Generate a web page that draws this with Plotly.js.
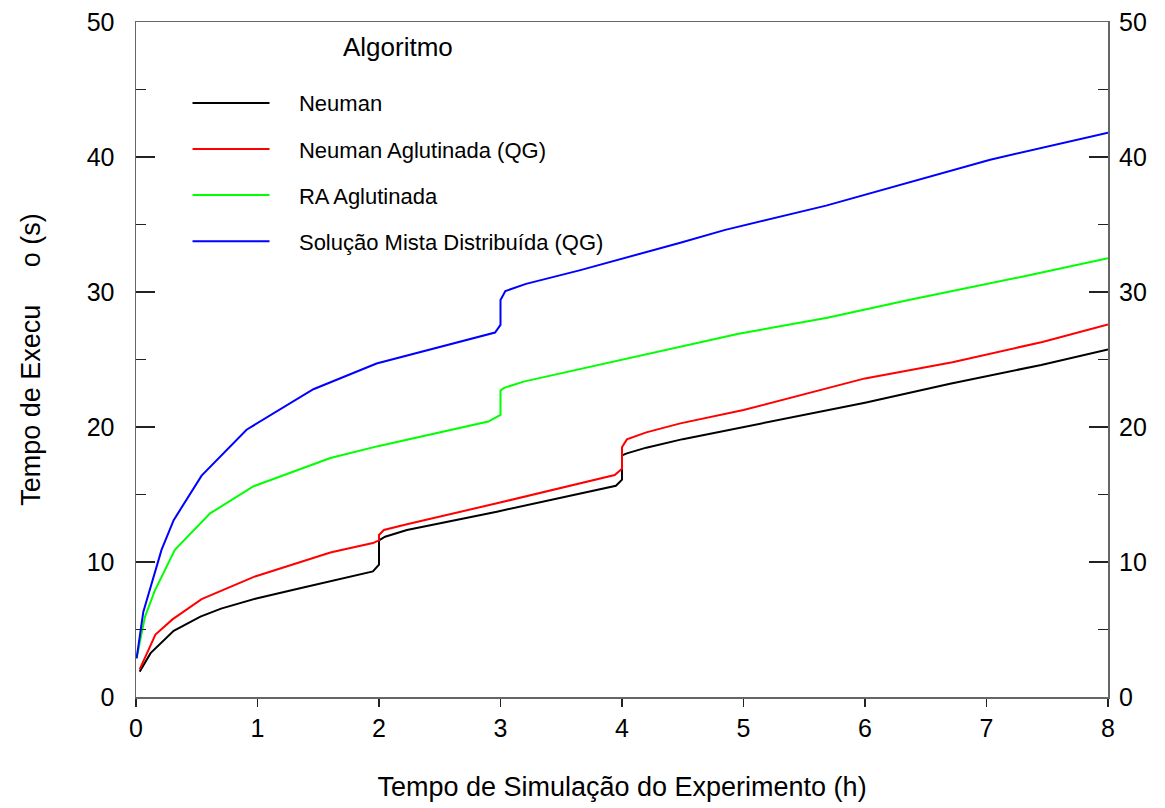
<!DOCTYPE html>
<html>
<head>
<meta charset="utf-8">
<script src="https://cdn.plot.ly/plotly-3.0.1.min.js"></script>
<style>html,body{margin:0;padding:0;background:#fff;}#chart{width:1165px;height:808px;}</style>
</head>
<body>
<div id="chart"></div>
<script>
// Series names
const seriesNames = ["Neuman", "Neuman Aglutinada (QG)", "RA Aglutinada", "Solução Mista Distribuída (QG)"];
const seriesColors = ["#000000", "#ff0000", "#00ff00", "#0000ff"];
const legendTitle = "Algoritmo";

// Neuman
const neumanX = [0.03,0.12,0.31,0.53,0.70,0.99,1.35,1.95,2.0,2.0,2.05,2.23,2.97,3.5,3.95,4.0,4.0,4.04,4.2,4.5,5.0,6.0,6.7,7.45,8.0];
const neumanY = [1.88,3.25,4.9,5.95,6.55,7.3,8.05,9.3,9.8,11.6,11.87,12.37,13.73,14.75,15.65,16.1,17.9,18.05,18.47,19.1,20.0,21.8,23.2,24.6,25.75];

// Neuman Aglutinada (QG)
const neumanAglX = [0.03,0.16,0.30,0.54,0.98,1.6,1.7,1.95,2.0,2.0,2.04,2.23,2.97,3.94,4.0,4.0,4.04,4.2,4.48,5.0,6.0,6.72,7.46,8.0];
const neumanAglY = [2.05,4.63,5.75,7.25,8.93,10.7,10.9,11.4,11.6,12.0,12.37,12.8,14.35,16.44,16.9,18.5,19.08,19.6,20.27,21.26,23.6,24.8,26.3,27.6];

// RA Aglutinada
const raAglX = [0.005,0.074,0.156,0.21,0.32,0.61,0.965,1.6,2.0,2.9,3.0,3.0,3.03,3.19,3.93,4.48,4.96,5.69,6.36,7.36,8.0];
const raAglY = [2.86,5.95,7.9,8.9,10.9,13.6,15.6,17.7,18.6,20.4,20.9,22.7,22.9,23.36,24.84,25.9,26.9,28.1,29.4,31.26,32.5];

// Solução Mista Distribuída (QG)
const smdX = [0.005,0.06,0.21,0.31,0.54,0.91,1.46,1.98,2.955,3.0,3.0,3.04,3.21,3.65,4.48,4.85,5.68,6.19,7.03,8.0];
const smdY = [2.86,6.3,10.9,13.1,16.4,19.8,22.8,24.7,27.0,27.56,29.4,30.07,30.6,31.6,33.65,34.6,36.4,37.7,39.8,41.8];

const xTickVals = [0,1,2,3,4,5,6,7,8];
const yTickVals = [0,10,20,30,40,50];

const xs = [neumanX, neumanAglX, raAglX, smdX];
const ys = [neumanY, neumanAglY, raAglY, smdY];

const pad = "\u00a0\u00a0\u00a0\u00a0";
const traces = seriesNames.map((name, i) => ({
  type: "scatter",
  mode: "lines",
  name: pad + name,
  legendgroup: "g" + i,
  x: xs[i],
  y: ys[i],
  line: {color: seriesColors[i], width: 2}
}));
// empty trace so the right-hand axis gets drawn
traces.push({type: "scatter", mode: "lines", x: [], y: [], yaxis: "y2", showlegend: false, hoverinfo: "skip"});

const font = "Arial, 'Liberation Sans', sans-serif";
const axisBase = {
  showgrid: false,
  zeroline: false,
  showline: true,
  linecolor: "#666",
  linewidth: 1.5,
  tickcolor: "#222",
  tickwidth: 1.5,
  tickfont: {family: font, size: 25, color: "#000"}
};

const layout = {
  width: 1165,
  height: 808,
  margin: {l: 136, r: 57, t: 22, b: 111},
  paper_bgcolor: "#fff",
  plot_bgcolor: "#fff",
  font: {family: font, color: "#000"},
  showlegend: true,
  legend: {
    x: 0.053, xanchor: "left",
    y: 0.911, yanchor: "top",
    bgcolor: "rgba(0,0,0,0)",
    font: {family: font, size: 22, color: "#000"},
    itemwidth: 77,
    tracegroupgap: 14.5,
    traceorder: "grouped"
  },
  annotations: [{
    text: legendTitle, xref: "paper", yref: "paper",
    x: 0.2695, y: 0.963, xanchor: "center", yanchor: "middle",
    showarrow: false, font: {family: font, size: 26, color: "#000"}
  }],
  xaxis: Object.assign({}, axisBase, {
    range: [0, 8],
    tickvals: xTickVals,
    ticks: "outside",
    ticklen: 8,
    mirror: true,
    title: {text: "Tempo de Simulação do Experimento (h)", font: {family: font, size: 27, color: "#000"}, standoff: 36}
  }),
  yaxis: Object.assign({}, axisBase, {
    range: [0, 50],
    tickvals: yTickVals,
    ticks: "inside",
    ticklen: 19,
    mirror: true,
    ticklabelstandoff: 15,
    minor: {dtick: 5, ticks: "inside", ticklen: 10, tickcolor: "#222", tickwidth: 1.5},
    title: {text: "Tempo de Execu\u00a0\u00a0\u00a0\u00a0\u00a0o (s)", font: {family: font, size: 27, color: "#000"}, standoff: 38}
  }),
  yaxis2: Object.assign({}, axisBase, {
    range: [0, 50],
    tickvals: yTickVals,
    overlaying: "y",
    side: "right",
    anchor: "x",
    showline: false,
    ticks: "inside",
    ticklen: 19,
    ticklabelstandoff: 10,
    minor: {dtick: 5, ticks: "inside", ticklen: 10, tickcolor: "#222", tickwidth: 1.5}
  })
};

Plotly.newPlot("chart", traces, layout, {staticPlot: true, displayModeBar: false});
</script>
</body>
</html>
